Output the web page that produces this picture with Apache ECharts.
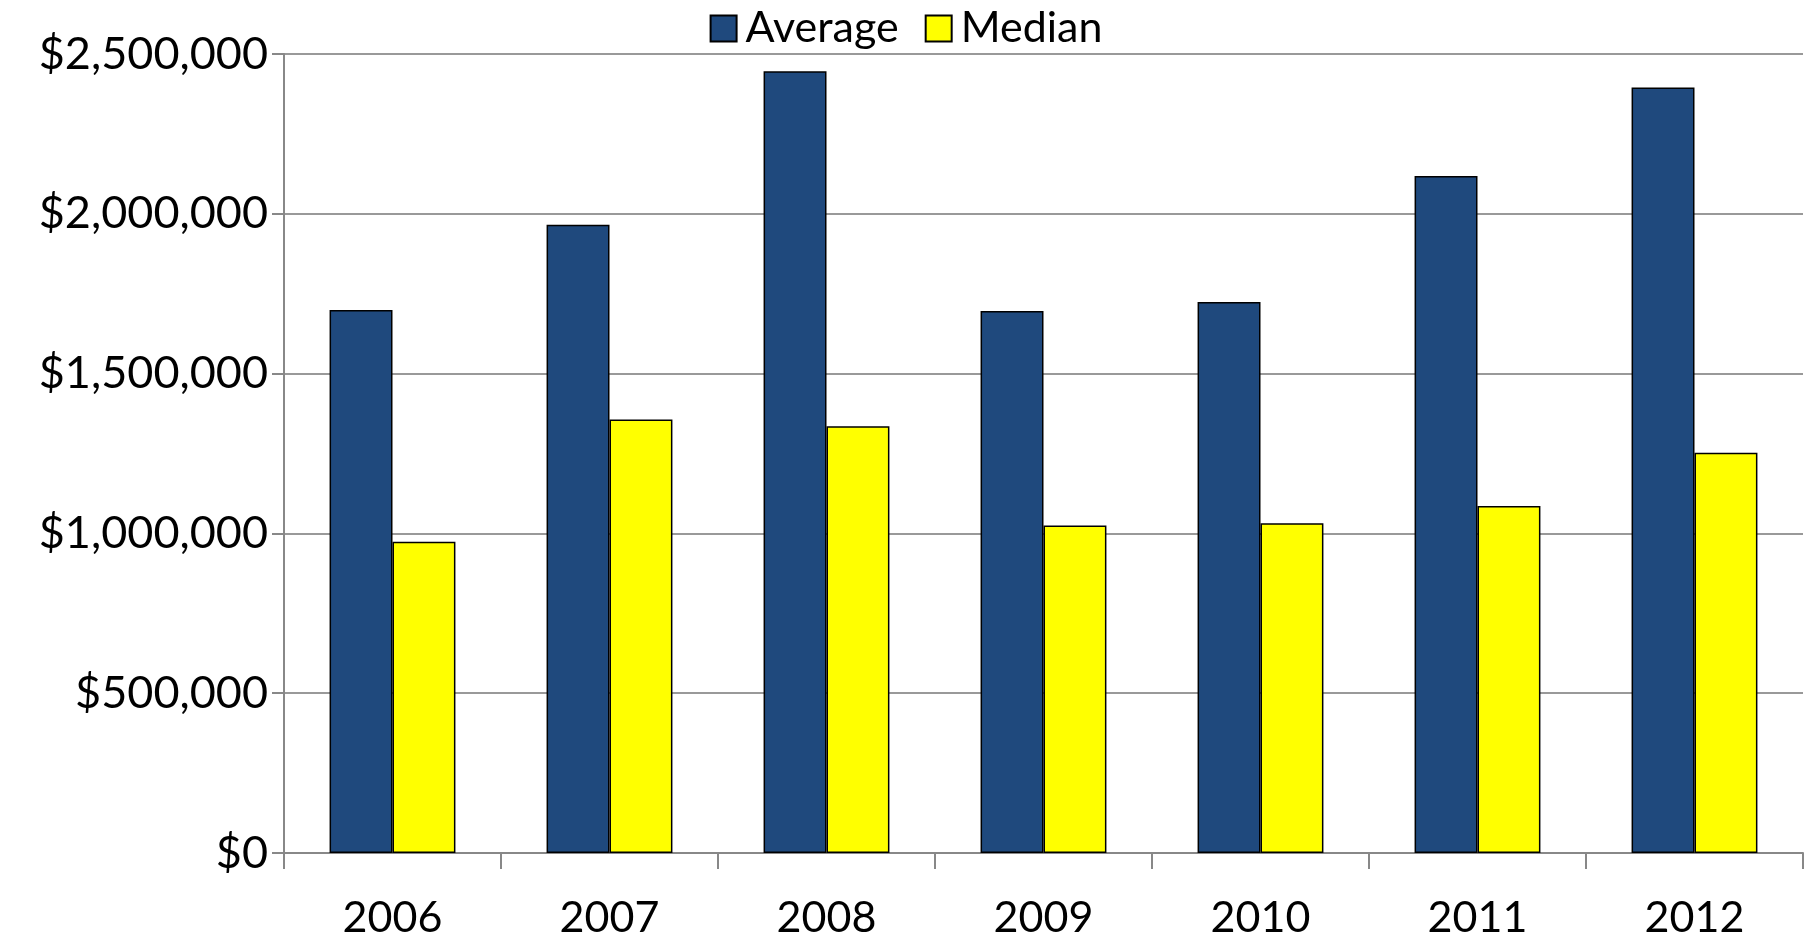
<!DOCTYPE html>
<html>
<head>
<meta charset="utf-8">
<script src="https://cdn.jsdelivr.net/npm/echarts@6/dist/echarts.min.js"></script>
<style>html,body{margin:0;background:#fff}#chart{width:1812px;height:940px}</style>
</head>
<body>
<div id="chart"></div>
<script>
var years = ['2006', '2007', '2008', '2009', '2010', '2011', '2012'];
var averageValues = [1699000, 1966000, 2446000, 1696000, 1724000, 2118000, 2395000];
var medianValues = [974000, 1356000, 1335000, 1025000, 1032000, 1086000, 1252000];

var chart = echarts.init(document.getElementById('chart'));
var font = 'Lato, "Open Sans", sans-serif';

chart.setOption({
  animation: false,
  textStyle: { fontFamily: font },
  legend: {
    top: 2,
    left: 'center',
    icon: 'rect',
    itemWidth: 26,
    itemHeight: 26,
    itemGap: 26,
    textStyle: { fontSize: 43, color: '#000', fontFamily: font, padding: [0, 0, 0, 4] },
    data: ['Average', 'Median']
  },
  grid: { left: 284, right: 9, top: 54, bottom: 85 },
  xAxis: {
    type: 'category',
    data: years,
    axisLine: { lineStyle: { color: '#888', width: 2 } },
    axisTick: { show: true, length: 16, lineStyle: { color: '#888', width: 2 } },
    axisLabel: { fontSize: 43, color: '#000', margin: 44, fontFamily: font }
  },
  yAxis: {
    type: 'value',
    min: 0,
    max: 2500000,
    interval: 500000,
    axisLine: { show: true, lineStyle: { color: '#888', width: 2 } },
    axisTick: { show: true, length: 12, lineStyle: { color: '#888', width: 2 } },
    splitLine: { lineStyle: { color: '#999', width: 2 } },
    axisLabel: {
      fontSize: 45, color: '#000', margin: 16, fontFamily: font,
      formatter: function (v) { return '$' + v.toLocaleString('en-US'); }
    }
  },
  series: [
    {
      name: 'Average',
      type: 'bar',
      data: averageValues,
      barGap: '0%',
      barCategoryGap: '42%',
      itemStyle: { color: '#1f497d', borderColor: '#000', borderWidth: 1.5 }
    },
    {
      name: 'Median',
      type: 'bar',
      data: medianValues,
      itemStyle: { color: '#ffff00', borderColor: '#000', borderWidth: 1.5 }
    }
  ]
});
</script>
</body>
</html>
